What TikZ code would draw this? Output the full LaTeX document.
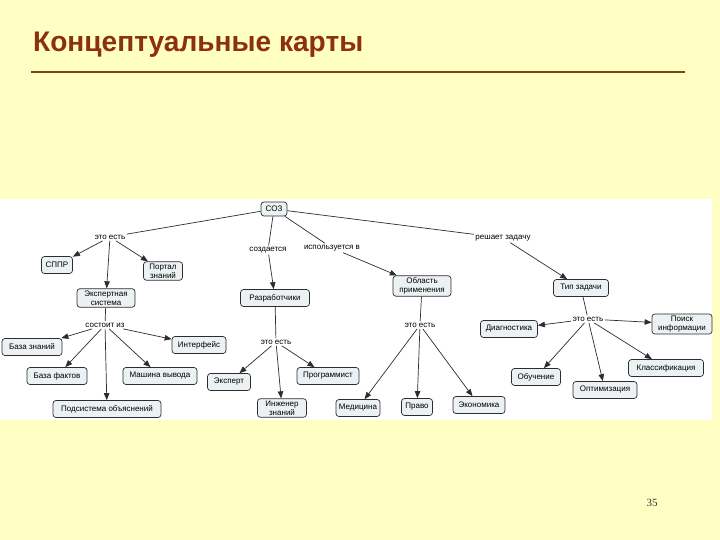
\documentclass[tikz,border=0pt]{standalone}
\usepackage{fontspec}
\setmainfont{Liberation Sans}
\newfontfamily\serifnum{Liberation Serif}
\usetikzlibrary{arrows.meta}
\definecolor{slidebg}{RGB}{255,255,196}
\definecolor{titlecol}{RGB}{140,48,14}
\definecolor{rulecol}{RGB}{120,72,20}
\definecolor{boxfill}{RGB}{236,241,243}
\definecolor{edgecol}{RGB}{45,45,45}
\tikzset{
  cbox/.style={draw=edgecol, line width=0.7pt, fill=boxfill, rounded corners=3pt,
    font=\fontsize{8}{9}\selectfont, align=center, minimum height=17pt, inner xsep=3pt, inner ysep=2pt},
  lbl/.style={font=\fontsize{8}{9}\selectfont, inner sep=1.5pt},
  link/.style={draw=edgecol, line width=0.7pt},
  arr/.style={draw=edgecol, line width=0.7pt, -{Triangle[length=7pt,width=5.5pt]}}
}
\begin{document}
\begin{tikzpicture}[x=1pt,y=-1pt]
\useasboundingbox (0,0) rectangle (720,540);
\fill[slidebg] (0,0) rectangle (720,540);
\fill[white] (0,199) rectangle (712,420);
% title
\node[anchor=base west, inner sep=0pt, text=titlecol, font=\fontsize{27}{30}\selectfont\bfseries] (title) at (33,52) {\scalebox{1.04}[1.05]{Концептуальные карты}};
\coordinate (rl) at (31,72);
\coordinate (rr) at (685,72);
\draw[rulecol, line width=2pt] (rl) -- (rr);
\node[font=\serifnum\fontsize{11}{12}\selectfont, text=black!80] (pnum) at (652,503) {35};

% nodes
\node[cbox, minimum width=26pt, minimum height=14pt] (soz) at (274,209) {СОЗ};
\node[cbox, minimum width=31pt] (sppr) at (57,265) {СППР};
\node[cbox, minimum width=39pt] (portal) at (163,271) {Портал\\знаний};
\node[cbox, minimum width=58pt] (es) at (106,298) {Экспертная\\система};
\node[cbox, minimum width=60pt] (bz) at (32,347) {База знаний};
\node[cbox, minimum width=54pt] (intf) at (199,345) {Интерфейс};
\node[cbox, minimum width=60pt] (bf) at (57,376) {База фактов};
\node[cbox, minimum width=74pt] (mv) at (160,376) {Машина вывода};
\node[cbox, minimum width=108pt] (po) at (107,409) {Подсистема объяснений};
\node[cbox, minimum width=69pt] (razr) at (275,298) {Разработчики};
\node[cbox, minimum width=43pt] (eksp) at (229,382) {Эксперт};
\node[cbox, minimum width=49pt] (inzh) at (282,408) {Инженер\\знаний};
\node[cbox, minimum width=62pt] (prog) at (328,376) {Программист};
\node[cbox, minimum width=58pt] (obl) at (422,286) {Область\\применения};
\node[cbox, minimum width=44pt] (med) at (358,408) {Медицина};
\node[cbox, minimum width=31pt] (pravo) at (417,407) {Право};
\node[cbox, minimum width=52pt] (econ) at (479,405) {Экономика};
\node[cbox, minimum width=55pt] (tip) at (581,288) {Тип задачи};
\node[cbox, minimum width=57pt] (diag) at (509,329) {Диагностика};
\node[cbox, minimum width=60pt] (poisk) at (682,324) {Поиск\\информации};
\node[cbox, minimum width=49pt] (obuch) at (536,377) {Обучение};
\node[cbox, minimum width=64pt] (opt) at (605,390) {Оптимизация};
\node[cbox, minimum width=75pt] (klass) at (666,368) {Классификация};

% link labels
\node[lbl] (l1) at (110,237) {это есть};
\node[lbl] (l2) at (105,325) {состоит из};
\node[lbl] (l3) at (268,250) {создается};
\node[lbl] (l4) at (276,342) {это есть};
\node[lbl] (l5) at (332,248) {используется в};
\node[lbl] (l6) at (420,325) {это есть};
\node[lbl] (l7) at (503,238) {решает задачу};
\node[lbl] (l8) at (588,319) {это есть};

% connectors
\draw[link] (soz) -- (l1);
\draw[arr] (l1) -- (sppr);
\draw[arr] (l1) -- (portal);
\draw[arr] (l1) -- (es);
\draw[link] (es) -- (l2);
\draw[arr] (l2) -- (bz);
\draw[arr] (l2) -- (intf);
\draw[arr] (l2) -- (bf);
\draw[arr] (l2) -- (mv);
\draw[arr] (l2) -- (po);
\draw[link] (soz) -- (l3);
\draw[arr] (l3) -- (razr);
\draw[link] (razr) -- (l4);
\draw[arr] (l4) -- (eksp);
\draw[arr] (l4) -- (inzh);
\draw[arr] (l4) -- (prog);
\draw[link] (soz) -- (l5);
\draw[arr] (l5) -- (obl);
\draw[link] (obl) -- (l6);
\draw[arr] (l6) -- (med);
\draw[arr] (l6) -- (pravo);
\draw[arr] (l6) -- (econ);
\draw[link] (soz) -- (l7);
\draw[arr] (l7) -- (tip);
\draw[link] (tip) -- (l8);
\draw[arr] (l8) -- (diag);
\draw[arr] (l8) -- (poisk);
\draw[arr] (l8) -- (obuch);
\draw[arr] (l8) -- (opt);
\draw[arr] (l8) -- (klass);
\end{tikzpicture}
\end{document}
